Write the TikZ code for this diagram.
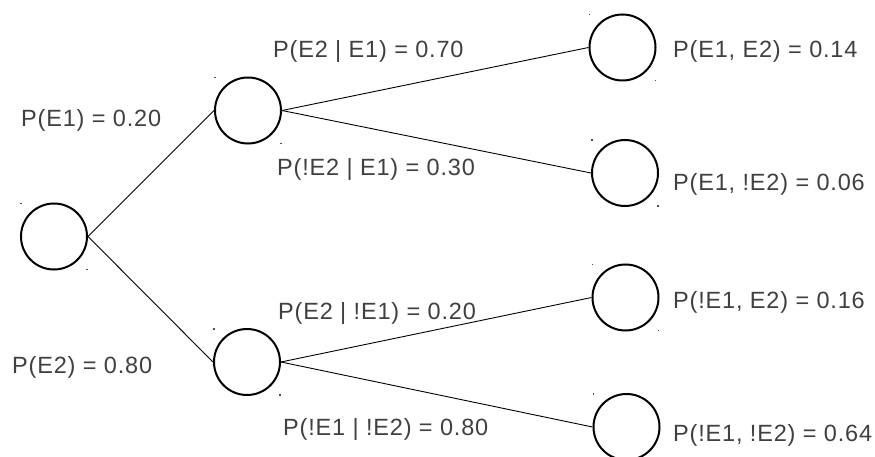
\documentclass[tikz,border=0pt]{standalone}
\usepackage{fontspec}
\setmainfont{Liberation Sans}[LetterSpace=3.5]
\definecolor{txt}{HTML}{404040}
\begin{document}
\begin{tikzpicture}[x=1pt,y=-1pt,
  ev/.style={circle,draw=black,line width=2pt,minimum size=66pt,inner sep=0pt},
  br/.style={draw=black,line width=0.9pt},
  lbl/.style={anchor=base west,inner sep=0pt,text=txt,font=\fontsize{23.5}{27}\selectfont},
  handle/.style={fill=black!70,inner sep=0pt,minimum size=1.3pt}]
\useasboundingbox (0,0) rectangle (875,457);
% event nodes
\node[ev] (r)  at (54,236.5) {};
\node[ev] (a)  at (248,110.5) {};
\node[ev] (b)  at (247,362) {};
\node[ev] (l1) at (622.5,47.5) {};
\node[ev] (l2) at (625,173) {};
\node[ev] (l3) at (625.5,297.5) {};
\node[ev] (l4) at (626.5,427) {};
% small handle marks at box corners
\foreach \n in {r,a,b,l1,l2,l3,l4}{
  \node[handle] at ([shift={(-33,-33)}]\n.center) {};
  \node[handle] at ([shift={(33,33)}]\n.center) {};
}
% branches
\draw[br] (r.east) -- (a.west);
\draw[br] (r.east) -- (b.west);
\draw[br] (a.east) -- (l1.west);
\draw[br] (a.east) -- (l2.west);
\draw[br] (b.east) -- (l3.west);
\draw[br] (b.east) -- (l4.west);
% labels
\node[lbl] (t1) at (21,127) {P(E1) = 0.20};
\node[lbl] (t2) at (12,373) {P(E2) = 0.80};
\node[lbl] (t3) at (273,58) {P(E2 | E1) = 0.70};
\node[lbl] (t4) at (277,176) {P(!E2 | E1) = 0.30};
\node[lbl] (t5) at (278,319) {P(E2 | !E1) = 0.20};
\node[lbl] (t6) at (283,435) {P(!E1 | !E2) = 0.80};
\node[lbl] (t7) at (673,58) {P(E1, E2) = 0.14};
\node[lbl] (t8) at (673,191) {P(E1, !E2) = 0.06};
\node[lbl] (t9) at (673,308) {P(!E1, E2) = 0.16};
\node[lbl] (t10) at (673,441) {P(!E1, !E2) = 0.64};
\end{tikzpicture}
\end{document}
